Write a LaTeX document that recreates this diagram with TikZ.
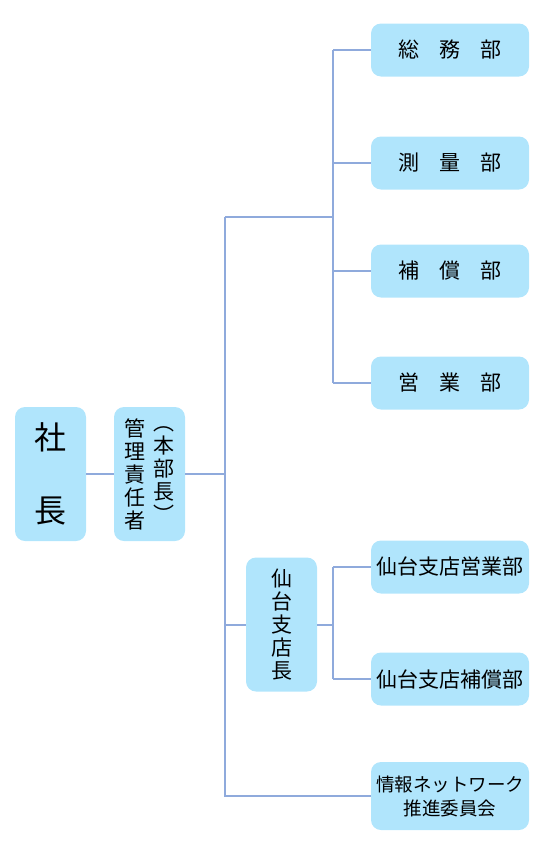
\documentclass[tikz,border=0pt]{standalone}
\usepackage{fontspec}
\setmainfont{Noto Sans CJK JP}
\definecolor{boxc}{RGB}{176,229,252}
\definecolor{linec}{RGB}{143,170,220}
\begin{document}
\begin{tikzpicture}[x=1pt,y=-1pt,
  box/.style={fill=boxc, rounded corners=10pt, inner sep=0pt, text=black, align=center},
  wide/.style={box, minimum width=158pt, minimum height=53pt},
  tall/.style={box, minimum width=71pt, minimum height=134pt},
  col/.style={inner sep=0pt, align=center, font=\fontsize{21}{23}\selectfont},
  ln/.style={draw=linec, line width=2pt}]
\useasboundingbox (0,0) rectangle (556,857);
% boxes
\node[tall, font=\fontsize{32}{73}\selectfont] (shacho) at (50.5,474) {社\\長};
\node[tall] (kanri) at (149.5,474) {};
\node[col] (kanriL) at (135,474.5) {管\\理\\責\\任\\者};
\node[col] (kanriR) at (164,474.5) {︵\\本\\部\\長\\︶};
\node[tall] (sendai) at (281.5,624.5) {};
\node[col] (sendaiT) at (281.5,624.5) {仙\\台\\支\\店\\長};
\node[wide, font=\fontsize{21}{23}\selectfont] (soumu) at (450,50) {総\hspace{20pt}務\hspace{20pt}部};
\node[wide, font=\fontsize{21}{23}\selectfont] (sokuryo) at (450,163) {測\hspace{20pt}量\hspace{20pt}部};
\node[wide, font=\fontsize{21}{23}\selectfont] (hosho) at (450,271) {補\hspace{20pt}償\hspace{20pt}部};
\node[wide, font=\fontsize{21}{23}\selectfont] (eigyo) at (450,383) {営\hspace{20pt}業\hspace{20pt}部};
\node[wide, font=\fontsize{21}{23}\selectfont] (seigyo) at (450,567) {仙台支店営業部};
\node[wide, font=\fontsize{21}{23}\selectfont] (shosho) at (450,679) {仙台支店補償部};
\node[wide, minimum height=68pt, font=\fontsize{18.5}{24}\selectfont] (joho) at (450,796) {情報ネットワーク\\推進委員会};
% junction coordinates
\coordinate (tA) at (225,217);
\coordinate (tB) at (225,796);
\coordinate (uA) at (333,217);
% connectors
\draw[ln] (shacho.east) -- (kanri.west);
\draw[ln] (kanri.east) -- (kanri.east -| tA);
\draw[ln] (tA) -- (tB) -- (joho.west);
\draw[ln] (tA) -- (uA);
\draw[ln] (soumu.west -| uA) -- (eigyo.west -| uA);
\draw[ln] (soumu.west -| uA) -- (soumu.west);
\draw[ln] (sokuryo.west -| uA) -- (sokuryo.west);
\draw[ln] (hosho.west -| uA) -- (hosho.west);
\draw[ln] (eigyo.west -| uA) -- (eigyo.west);
\draw[ln] (tA |- sendai.west) -- (sendai.west);
\draw[ln] (sendai.east) -- (sendai.east -| uA);
\draw[ln] (seigyo.west -| uA) -- (shosho.west -| uA);
\draw[ln] (seigyo.west -| uA) -- (seigyo.west);
\draw[ln] (shosho.west -| uA) -- (shosho.west);
\end{tikzpicture}
\end{document}
